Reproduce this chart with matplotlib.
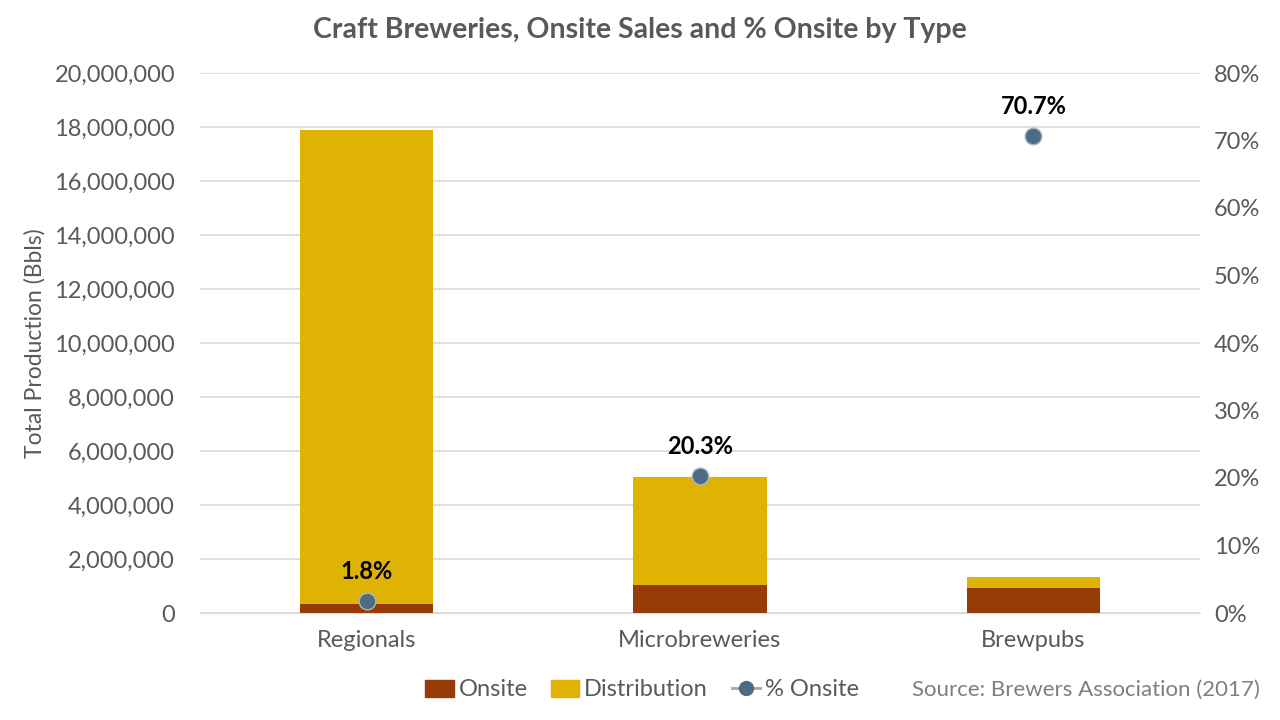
import matplotlib.pyplot as plt
from matplotlib.ticker import FuncFormatter, MultipleLocator
from matplotlib.lines import Line2D
from matplotlib.patches import Patch

plt.rcParams["font.family"] = ["Lato", "DejaVu Sans"]

CATEGORIES = ["Regionals", "Microbreweries", "Brewpubs"]
ONSITE = [322000, 1019000, 940000]
DISTRIBUTION = [17578000, 4001000, 390000]
PCT_ONSITE = [1.8, 20.3, 70.7]

BROWN = "#953B05"
GOLD = "#DEB304"
DOT = "#4F6B82"
GREY = "#595959"
GRID = "#D9D9D9"

fig = plt.figure(figsize=(12.8, 7.2), dpi=100)
ax = fig.add_axes([200 / 1280, 1 - 613 / 720, 1000 / 1280, 540 / 720])
x = list(range(len(CATEGORIES)))

ax.bar(x, ONSITE, width=0.4, color=BROWN, zorder=2)
ax.bar(x, DISTRIBUTION, width=0.4, bottom=ONSITE, color=GOLD, zorder=2)

ax.set_xlim(-0.5, 2.5)
ax.set_ylim(0, 20_000_000)
ax.yaxis.set_major_locator(MultipleLocator(2_000_000))
ax.yaxis.set_major_formatter(FuncFormatter(lambda v, _: f"{int(v):,}"))
ax.set_xticks(x)
ax.set_xticklabels(CATEGORIES)
ax.grid(axis="y", color=GRID, lw=1.2, zorder=0)
for s in ax.spines.values():
    s.set_visible(False)
ax.spines["bottom"].set_visible(True)
ax.spines["bottom"].set_color(GRID)
ax.tick_params(length=0, labelsize=17, colors=GREY, pad=18)
ax.tick_params(axis="x", pad=12)
ax.set_ylabel("Total Production (Bbls)", fontsize=16.5, color=GREY, labelpad=6)

ax2 = ax.twinx()
ax2.set_ylim(0, 80)
ax2.yaxis.set_major_locator(MultipleLocator(10))
ax2.yaxis.set_major_formatter(FuncFormatter(lambda v, _: f"{int(v)}%"))
for s in ax2.spines.values():
    s.set_visible(False)
ax2.tick_params(length=0, labelsize=17, colors=GREY, pad=10)
ax2.plot(x, PCT_ONSITE, ls="none", marker="o", ms=12, mfc=DOT,
         mec="#A9B8C6", mew=1, zorder=5)
for xi, p in zip(x, PCT_ONSITE):
    ax2.annotate(f"{p}%", (xi, p), xytext=(0, 13), textcoords="offset points",
                 ha="center", va="bottom", fontsize=17, fontweight="bold",
                 color="black")

fig.text(640 / 1280, 1 - 30 / 720, "Craft Breweries, Onsite Sales and % Onsite by Type",
         ha="center", va="center", fontsize=20.5, fontweight="bold", color=GREY)

handles = [
    Patch(color=BROWN, label="Onsite"),
    Patch(color=GOLD, label="Distribution"),
    Line2D([], [], color="#A5A5A5", lw=2, marker="o", ms=10, mfc=DOT,
           mec=DOT, label="% Onsite"),
]
fig.legend(handles=handles, loc="center", bbox_to_anchor=(642 / 1280, 1 - 690 / 720),
           ncol=3, frameon=False, fontsize=17, labelcolor=GREY,
           handlelength=1.2, handletextpad=0.2, columnspacing=1.0)
fig.text(1260 / 1280, 1 - 690 / 720, "Source: Brewers Association (2017)",
         ha="right", va="center", fontsize=16, color="#7F7F7F")

fig.savefig("out.png", dpi=100)
